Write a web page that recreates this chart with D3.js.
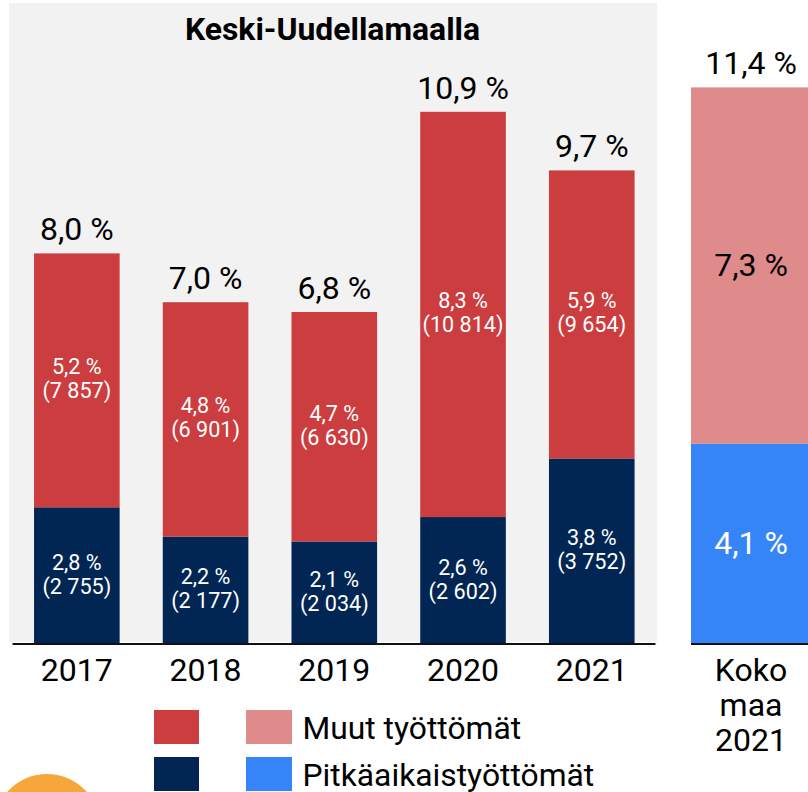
<!DOCTYPE html>
<html><head><meta charset="utf-8"><style>html,body{margin:0;padding:0;background:#fff}svg{display:block}text{font-family:Roboto,sans-serif}</style>
<script src="https://cdn.jsdelivr.net/npm/d3@7"></script></head><body><script>
const years=["2017","2018","2019","2020","2021"];
const longTerm=[2.8,2.2,2.1,2.6,3.8];
const other=[5.2,4.8,4.7,8.3,5.9];
const longAbs=["2 755","2 177","2 034","2 602","3 752"];
const otherAbs=["7 857","6 901","6 630","10 814","9 654"];
const totals=["8,0 %","7,0 %","6,8 %","10,9 %","9,7 %"];
const natLong=[4.1],natOther=[7.3],natTotal="11,4 %";
const title="Keski-Uudellamaalla";
const legendLabels=["Muut työttömät","Pitkäaikaistyöttömät"];
const fmt=v=>v.toFixed(1).replace(".",",")+" %";
const svg=d3.select("body").append("svg").attr("width",808).attr("height",792);
const y=d3.scaleLinear().domain([0,11.4]).range([644,87.4]);
const x=d3.scaleBand().domain(years).range([12.8,655.8]).paddingInner(0.335).paddingOuter(0.165);
svg.append("rect").attr("x",9).attr("y",3).attr("width",648).attr("height",639).attr("fill","#f2f2f2");
svg.append("text").attr("x",332.5).attr("y",40).attr("text-anchor","middle").attr("font-size",31.9).attr("font-weight",700).text(title);
years.forEach((yr,i)=>{
 const bx=x(yr),bw=x.bandwidth(),cx=bx+bw/2;
 svg.append("rect").attr("x",bx).attr("width",bw).attr("y",y(longTerm[i])).attr("height",y(0)-y(longTerm[i])).attr("fill","#022654");
 svg.append("rect").attr("x",bx).attr("width",bw).attr("y",y(longTerm[i]+other[i])).attr("height",y(longTerm[i])-y(longTerm[i]+other[i])).attr("fill","#cb3d3f");
 const lab=(v,a,my)=>{
  svg.append("text").attr("x",cx).attr("y",my-6).attr("text-anchor","middle").attr("font-size",21.6).attr("fill","#fff").text(fmt(v));
  svg.append("text").attr("x",cx).attr("y",my+18).attr("text-anchor","middle").attr("font-size",21.6).attr("fill","#fff").text("("+a+")");
 };
 lab(longTerm[i],longAbs[i],(y(0)+y(longTerm[i]))/2);
 lab(other[i],otherAbs[i],(y(longTerm[i])+y(longTerm[i]+other[i]))/2);
 svg.append("text").attr("x",cx).attr("y",y(longTerm[i]+other[i])-13).attr("text-anchor","middle").attr("font-size",32).text(totals[i]);
 svg.append("text").attr("x",cx).attr("y",681).attr("text-anchor","middle").attr("font-size",32).text(yr);
});
svg.append("line").attr("x1",12.5).attr("x2",655.5).attr("y1",644).attr("y2",644).attr("stroke","#111").attr("stroke-width",2);
const nx=691,nw=117,ncx=751;
svg.append("rect").attr("x",nx).attr("width",nw).attr("y",y(natLong[0])).attr("height",y(0)-y(natLong[0])).attr("fill","#3685f8");
svg.append("rect").attr("x",nx).attr("width",nw).attr("y",y(natLong[0]+natOther[0])).attr("height",y(natLong[0])-y(natLong[0]+natOther[0])).attr("fill","#df8a8b");
svg.append("line").attr("x1",nx).attr("x2",808).attr("y1",644).attr("y2",644).attr("stroke","#111").attr("stroke-width",2);
svg.append("text").attr("x",ncx).attr("y",74).attr("text-anchor","middle").attr("font-size",32).text(natTotal);
svg.append("text").attr("x",ncx).attr("y",276).attr("text-anchor","middle").attr("font-size",32).text(fmt(natOther[0]));
svg.append("text").attr("x",ncx).attr("y",554).attr("text-anchor","middle").attr("font-size",32).attr("fill","#fff").text(fmt(natLong[0]));
["Koko","maa","2021"].forEach((t,i)=>svg.append("text").attr("x",ncx).attr("y",681+i*35).attr("text-anchor","middle").attr("font-size",32).text(t));
[["#cb3d3f","#df8a8b",710],["#022654","#3685f8",757]].forEach((r,i)=>{
 svg.append("rect").attr("x",154).attr("y",r[2]).attr("width",45).attr("height",34).attr("fill",r[0]);
 svg.append("rect").attr("x",246).attr("y",r[2]).attr("width",46).attr("height",34).attr("fill",r[1]);
 svg.append("text").attr("x",302.5).attr("y",r[2]+29).attr("font-size",31.8).text(legendLabels[i]);
});
svg.append("circle").attr("cx",47).attr("cy",827).attr("r",53).attr("fill","#f7a63b");
</script></body></html>
